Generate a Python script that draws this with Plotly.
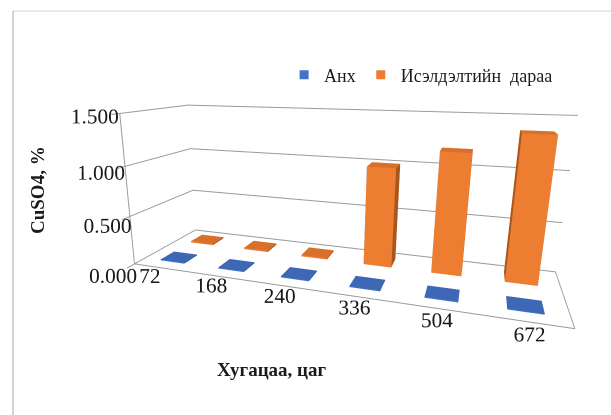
import plotly.graph_objects as go

# Sampling time, hours
categories = ["72", "168", "240", "336", "504", "672"]
series_names = ["Анх", "Исэлдэлтийн  дараа"]
# CuSO4 content, %
initial_vals = [0.01, 0.01, 0.01, 0.01, 0.01, 0.01]
after_vals = [0.015, 0.015, 0.015, 1.00, 1.18, 1.37]
value_ticks = [0.0, 0.5, 1.0, 1.5]

# face colours: front, right side, top
blue_faces = ("#4472C4", "#2F5597", "#3E68B5")
orange_faces = ("#ED7D31", "#A9561E", "#D9702A")

FONT = "Liberation Serif"
BAR_W = 0.42   # bar width in category units
BAR_D = 0.42   # bar depth in series units


def box_mesh(xc, yc, h, faces, name):
    """Build a mesh3d cuboid standing on z=0 with height h."""
    x0, x1 = xc - BAR_W / 2, xc + BAR_W / 2
    y0, y1 = yc - BAR_D / 2, yc + BAR_D / 2
    xs = [x0, x1, x1, x0, x0, x1, x1, x0]
    ys = [y0, y0, y1, y1, y0, y0, y1, y1]
    zs = [0, 0, 0, 0, h, h, h, h]
    tris = [
        (0, 1, 5), (0, 5, 4),   # front
        (1, 2, 6), (1, 6, 5),   # right
        (4, 5, 6), (4, 6, 7),   # top
        (3, 2, 6), (3, 6, 7),   # back
        (0, 3, 7), (0, 7, 4),   # left
        (0, 1, 2), (0, 2, 3),   # bottom
    ]
    front, side, top = faces
    fc = [front, front, side, side, top, top, front, front, side, side, front, front]
    return go.Mesh3d(
        x=xs, y=ys, z=zs,
        i=[t[0] for t in tris], j=[t[1] for t in tris], k=[t[2] for t in tris],
        facecolor=fc, flatshading=True,
        lighting=dict(ambient=1, diffuse=0, specular=0, roughness=1, fresnel=0),
        hoverinfo="skip", showlegend=False, name=name, scene="scene",
    )


fig = go.Figure()

for idx in range(len(categories)):
    fig.add_trace(box_mesh(idx + 0.5, 0.5, initial_vals[idx], blue_faces, series_names[0]))
    fig.add_trace(box_mesh(idx + 0.5, 1.5, after_vals[idx], orange_faces, series_names[1]))

# legend entries
for name, col in zip(series_names, (blue_faces[0], orange_faces[0])):
    fig.add_trace(go.Scatter(
        x=[None], y=[None], mode="markers", name=name,
        marker=dict(symbol="square", size=9, color=col),
        xaxis="x", yaxis="y",
    ))

grid_col = "#9a9a9a"
text_col = "#1a1a1a"
fig.update_layout(
    width=611, height=415,
    margin=dict(l=0, r=0, t=0, b=0),
    paper_bgcolor="white", plot_bgcolor="rgba(0,0,0,0)",
    font=dict(family=FONT, size=16, color=text_col),
    xaxis=dict(visible=False), yaxis=dict(visible=False),
    hovermode=False,
    showlegend=True,
    legend=dict(
        orientation="h", x=0.465, y=0.819, xanchor="left", yanchor="middle",
        font=dict(family=FONT, size=18, color=text_col),
        bgcolor="rgba(0,0,0,0)", itemwidth=30,
    ),
    scene=dict(
        domain=dict(x=[0.0, 1.0], y=[0.0, 1.0]),
        aspectmode="manual",
        aspectratio=dict(x=2.663, y=0.779, z=1.0),
        camera=dict(
            eye=dict(x=0.791, y=-2.9895, z=0.768),
            center=dict(x=-0.198, y=-0.140, z=-0.068),
            up=dict(x=0, y=0, z=1),
            projection=dict(type="perspective"),
        ),
        xaxis=dict(
            range=[0, 6], tickvals=[i + 0.5 for i in range(6)], ticktext=categories,
            showgrid=False, showline=True, linecolor=grid_col, linewidth=2,
            showbackground=False, zeroline=False, ticks="", title=dict(text=""),
            tickangle=0,
            tickfont=dict(family=FONT, size=16, color=text_col), showspikes=False,
        ),
        yaxis=dict(
            range=[0, 2], showgrid=False, showline=True, linecolor=grid_col, linewidth=2,
            showbackground=False, zeroline=False, showticklabels=False, ticks="",
            title=dict(text=""), showspikes=False,
        ),
        zaxis=dict(
            range=[0, 1.5], tickvals=value_ticks, tickformat=".3f",
            showgrid=True, gridcolor=grid_col, gridwidth=2,
            showline=True, linecolor=grid_col, linewidth=2,
            showbackground=False, zeroline=False, ticks="outside", ticklen=10,
            tickcolor=grid_col, tickwidth=2, title=dict(text=""), tickangle=0,
            tickfont=dict(family=FONT, size=16, color=text_col), showspikes=False,
        ),
        dragmode=False,
    ),
    annotations=[
        dict(text="<b>CuSO4, %</b>", x=38 / 611, y=1 - 190 / 415, xref="paper", yref="paper",
             xanchor="center", yanchor="middle",
             textangle=-90, showarrow=False, font=dict(family=FONT, size=19, color=text_col)),
        dict(text="<b>Хугацаа, цаг</b>", x=272 / 611, y=1 - 369 / 415, xref="paper", yref="paper",
             xanchor="center", yanchor="middle",
             showarrow=False, font=dict(family=FONT, size=19, color=text_col)),
    ],
    shapes=[
        dict(type="line", xref="paper", yref="paper", x0=13 / 611, x1=1, y0=1 - 11 / 415, y1=1 - 11 / 415,
             line=dict(color="#d4d4d4", width=1)),
        dict(type="line", xref="paper", yref="paper", x0=13 / 611, x1=13 / 611, y0=0, y1=1 - 11 / 415,
             line=dict(color="#a8a8a8", width=1)),
    ],
)

fig.write_html("out.html")
